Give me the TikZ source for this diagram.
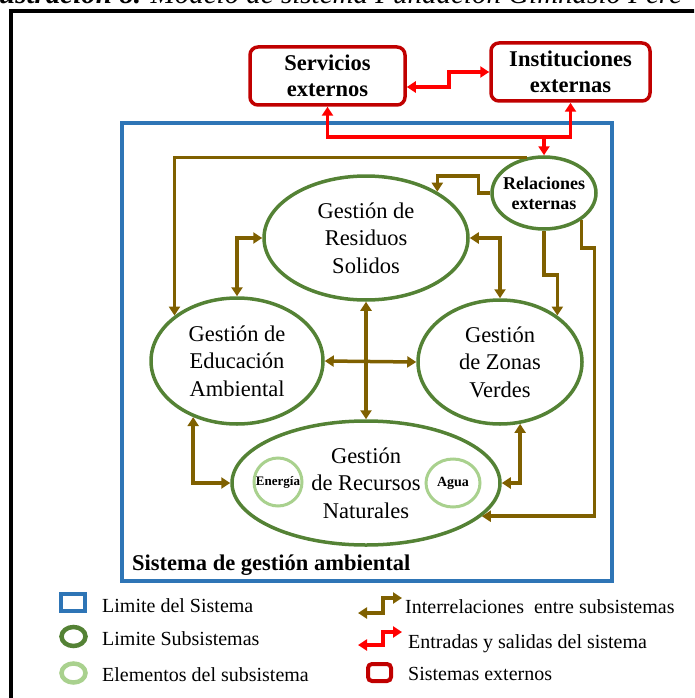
\documentclass[tikz,border=0pt]{standalone}
\usepackage{fontspec}
\setmainfont{Liberation Serif}
\usetikzlibrary{shapes.geometric,arrows.meta}

\definecolor{sysblue}{RGB}{46,117,182}
\definecolor{subgreen}{RGB}{84,130,53}
\definecolor{elemgreen}{RGB}{169,209,142}
\definecolor{linkbrown}{RGB}{127,96,0}
\definecolor{extred}{RGB}{192,0,0}
\definecolor{flowred}{RGB}{255,0,0}

\newcommand{\fsz}[2]{\fontsize{#1}{#2}\selectfont}

\begin{document}
\begin{tikzpicture}[x=1pt,y=-1pt,
  >={Triangle[length=9pt,width=11pt]},
  sub/.style={ellipse, draw=subgreen, line width=3.5pt, inner sep=0pt,
    align=center, font=\fsz{22.5}{27.5}},
  elem/.style={ellipse, draw=elemgreen, line width=3pt, inner sep=0pt},
  ext/.style={draw=extred, line width=3.5pt, rounded corners=8pt,
    minimum height=58pt, align=center, font=\bfseries\fsz{22.5}{26}},
  link/.style={draw=linkbrown, line width=3.5pt},
  flow/.style={draw=flowred, line width=3.5pt},
  legtext/.style={anchor=base west, inner sep=0pt, font=\fsz{20}{22}}
]
\useasboundingbox (0,0) rectangle (694,698);
\clip (0,0) rectangle (694,698);

% caption line and frame
\node[anchor=base west, inner sep=0pt, font=\fsz{29}{30}] (caption) at (-1,4)
  {\textbf{\textit{ustración 8.}} \textit{Modelo de sistema Fundación Gimnasio Pere}};
\draw[line width=4pt] (11.3,700) -- (11.3,11.3) -- (700,11.3);

% system boundary
\draw[draw=sysblue, line width=4pt] (122,123) rectangle (612,581);
\node[anchor=base west, inner sep=0pt, font=\bfseries\fsz{22.5}{24}] (sysname) at (132,570)
  {Sistema de gestión ambiental};

% external systems
\node[ext, minimum width=155pt] (ser) at (327.5,76) {Servicios\\externos};
\node[ext, minimum width=159pt] (ins) at (570.5,72) {Instituciones\\externas};

% subsystems
\node[sub, minimum width=204pt, minimum height=124pt] (res) at (366,238)
  {Gestión de\\Residuos\\Solidos};
\node[sub, minimum width=172pt, minimum height=126pt] (edu) at (237,361)
  {Gestión de\\Educación\\Ambiental};
\node[sub, minimum width=164pt, minimum height=124pt] (zon) at (500,362)
  {Gestión\\de Zonas\\Verdes};
\node[sub, minimum width=268pt, minimum height=124pt] (rec) at (366,483)
  {Gestión\\de Recursos\\Naturales};
\node[sub, minimum width=104pt, minimum height=72pt,
  label={[font=\bfseries\fsz{18}{20}, align=center]center:Relaciones\\externas}]
  (rel) at (544,193) {};

% elements of the natural resources subsystem
\node[elem, minimum width=48pt, minimum height=48pt,
  label={[font=\bfseries\fsz{13}{14}]center:Energía}] (ene) at (278,482) {};
\node[elem, minimum width=54pt, minimum height=48pt,
  label={[font=\bfseries\fsz{14}{15}]center:Agua}] (agu) at (453,483) {};

% inputs and outputs of the system
\draw[flow,<->] ([yshift=-11pt]ser.east) -- ++(42,0) |- (ins.west);
\draw[flow,<->] (ser.south) -- ++(0,30) coordinate (redbus) -| (ins.south);
\draw[flow,->] (rel.north |- redbus) -- (rel.north);

% interrelations between subsystems
\draw[link,->] (rel.116) -| (edu.144);
\draw[link,->] (rel.west) -- ++(-12,0) -- ++(0,-17) -| (res.33);
\draw[link,->] (rel.south) -- ++(0,44) -| (zon.39);
\draw[link,->] (rel.324) -- ++(0,28) -- ++(13,0) |- (rec.344.5);
\draw[link,<->] (res.west) -| (edu.north);
\draw[link,<->] (res.east) -| (zon.north);
\draw[link,<->] (res.south) -- (rec.north);
\draw[link,<->] (edu.east) -- (zon.west);
\draw[link,<->] (edu.232) |- (rec.west);
\draw[link,<->] (zon.288) |- (rec.east);

% legend
\draw[draw=sysblue, line width=4pt] (61,594) rectangle (85,611);
\node[legtext] (lg1) at (102,612) {Limite del Sistema};
\draw[draw=subgreen, line width=4.5pt] (73.5,636.5) ellipse [x radius=12pt, y radius=9.5pt];
\node[legtext] (lg2) at (102,645) {Limite Subsistemas};
\draw[draw=elemgreen, line width=4.5pt] (73.5,673) ellipse [x radius=12pt, y radius=9.5pt];
\node[legtext] (lg3) at (102,681) {Elementos del subsistema};

\draw[link,<->] (358,613) -- (383,613) -- (383,598) -- (402,598);
\node[legtext] (lg4) at (405,613) {Interrelaciones\ \ entre subsistemas};
\draw[flow,<->] (358,645) -- (383,645) -- (383,632) -- (402,632);
\node[legtext] (lg5) at (408,648) {Entradas y salidas del sistema};
\draw[draw=extred, line width=4pt, rounded corners=4pt] (368,664) rectangle (391,681);
\node[legtext] (lg6) at (408,680) {Sistemas externos};
\end{tikzpicture}
\end{document}
